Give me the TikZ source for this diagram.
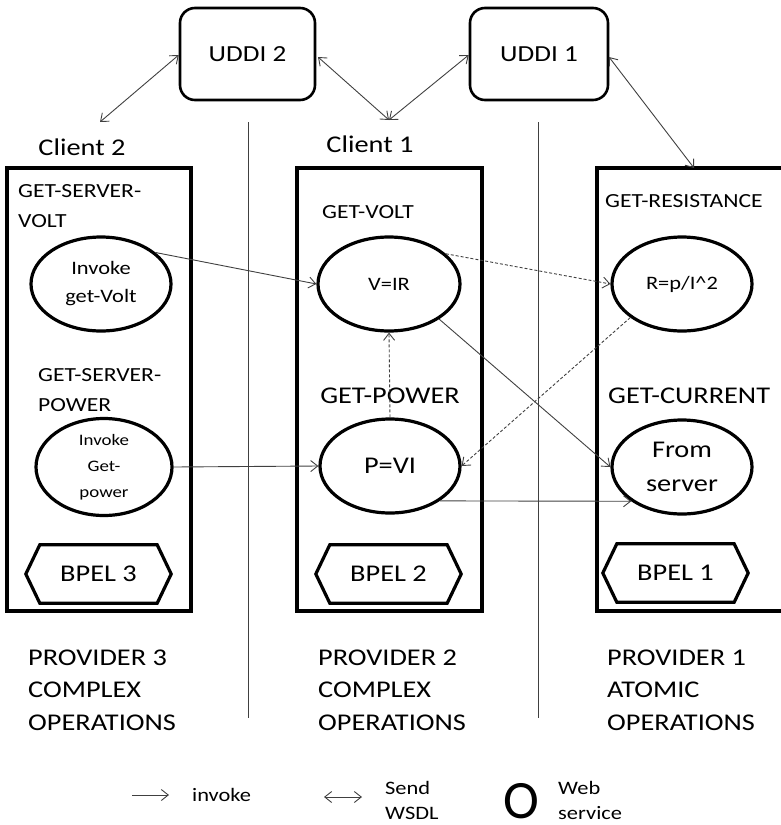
\documentclass[tikz,border=0pt]{standalone}
\usepackage{fontspec}
\setmainfont{Carlito}[FakeStretch=1.18]
\newfontfamily\plainfont{Carlito}
\usetikzlibrary{arrows.meta,shapes.geometric}
\begin{document}
\begin{tikzpicture}[x=1pt,y=-1pt,
  fs/.style={font=\fontsize{#1}{#1}\selectfont},
  uddi/.style={draw,line width=2.6pt,rounded corners=15pt,minimum width=135pt,minimum height=92pt,inner sep=0pt,fs=23},
  frame/.style={draw,line width=3.2pt},
  ws/.style={draw,ellipse,line width=3.2pt,minimum width=140pt,minimum height=94pt,inner sep=0pt,align=center},
  bpel/.style={minimum width=145pt,minimum height=58pt,inner sep=0pt,fs=24},
  hexa/.style={line width=3.2pt,line join=miter},
  sep/.style={draw=black!75,line width=0.8pt},
  conn/.style={draw=black!75,line width=0.9pt},
  tip/.style={-{Straight Barb[length=7pt,width=11pt]}},
  dtip/.style={{Straight Barb[length=7pt,width=11pt]}-{Straight Barb[length=7pt,width=11pt]}},
  lbl/.style={inner sep=0pt,align=left,anchor=west},
]
\useasboundingbox (0,0) rectangle (780,825);

% UDDI registries
\node[uddi] (uddi2) at (247.5,54) {UDDI 2};
\node[uddi,minimum width=138pt] (uddi1) at (539,54) {UDDI 1};

% separators
\coordinate (s1t) at (248,122); \coordinate (s1b) at (248,718);
\coordinate (s2t) at (538,122); \coordinate (s2b) at (538,718);
\draw[sep] (s1t) -- (s1b);
\draw[sep] (s2t) -- (s2b);

% clients
\node[fs=24,inner sep=0pt] (client2) at (82,147) {Client 2};
\node[fs=24,inner sep=0pt] (client1) at (370,144) {Client 1};

% provider frames
\node[frame,minimum width=184pt,minimum height=443pt,inner sep=0pt] (p3) at (99,389.5) {};
\node[frame,minimum width=185pt,minimum height=443pt,inner sep=0pt] (p2) at (389.5,389.5) {};
\node[frame,minimum width=193pt,minimum height=443pt,inner sep=0pt] (p1) at (693.5,389.5) {};

% operation titles
\node[lbl,fs=20,align=left] (t1) at (18,206) {GET-SERVER-\\[10pt]VOLT};
\node[fs=20,inner sep=0pt] (t2) at (368,212) {GET-VOLT};
\node[lbl,fs=20] (t3) at (605,201) {GET-RESISTANCE};
\node[lbl,fs=20,align=left] (t4) at (38,390) {GET-SERVER-\\[10pt]POWER};
\node[fs=24,inner sep=0pt] (t5) at (390,396) {GET-POWER};
\node[lbl,fs=24] (t6) at (608,396) {GET-CURRENT};

% web services
\node[ws,fs=19] (igv) at (101,284) {Invoke\\[9pt]get-Volt};
\node[ws,fs=19,minimum width=142pt] (vir) at (389,284) {V=IR};
\node[ws,fs=19] (rp) at (682,284) {R=p/I\^{}2};
\node[ws,fs=16,minimum width=136pt,minimum height=97pt] (igp) at (104,467) {Invoke\\[10pt]Get-\\[10pt]power};
\node[ws,fs=24] (pvi) at (390,466) {P=VI};
\node[ws,fs=24] (fsv) at (682,467) {From\\[10pt]server};

% BPEL engines
\node[bpel] (b3) at (98.5,574) {BPEL 3};
\node[bpel] (b2) at (388.5,574) {BPEL 2};
\node[bpel] (b1) at (675.5,573) {BPEL 1};
\foreach \b in {b3,b2,b1}{
  \draw[hexa] (\b.west) -- ([xshift=14pt]\b.north west) -- ([xshift=-14pt]\b.north east)
    -- (\b.east) -- ([xshift=-14pt]\b.south east) -- ([xshift=14pt]\b.south west) -- cycle;
}

% provider captions
\node[lbl,fs=24] (c3) at (28,690) {PROVIDER 3\\[8.5pt]COMPLEX\\[8.5pt]OPERATIONS};
\node[lbl,fs=24] (c2) at (318,690) {PROVIDER 2\\[8.5pt]COMPLEX\\[8.5pt]OPERATIONS};
\node[lbl,fs=24] (c1) at (607,690) {PROVIDER 1\\[8.5pt]ATOMIC\\[8.5pt]OPERATIONS};

% WSDL exchanges
\coordinate (cl2) at (100,122);
\coordinate (cl1) at (389,120);
\coordinate (pr1) at (694,168);
\draw[conn,dtip] (uddi2.west |- 0,55) -- (cl2);
\draw[conn,dtip] (318,57) -- (cl1);
\draw[conn,dtip] (uddi1.west |- 0,55) -- (cl1);
\draw[conn,dtip] (609,57) -- (pr1);

% invocations
\draw[conn,tip] (igv.30) -- (vir.west);
\draw[conn,tip,dash pattern=on 3pt off 2pt] (vir.28) -- (rp.west);
\draw[conn,tip,dash pattern=on 3pt off 2pt] (pvi.north) -- (vir.south);
\draw[conn,tip,dash pattern=on 3pt off 2pt] (rp.-147) -- (pvi.east);
\draw[conn,tip] (vir.-35) -- (fsv.west);
\draw[conn,tip] (igp.east) -- (pvi.west);
\draw[conn,tip] (pvi.-35) -- (fsv.-146);

% legend
\coordinate (la1) at (132,795); \coordinate (la2) at (169,795);
\draw[conn,tip] (la1) -- (la2);
\node[lbl,fs=19] (lg1) at (192,795) {invoke};
\coordinate (lb1) at (324,797); \coordinate (lb2) at (362,797);
\draw[conn,dtip] (lb1) -- (lb2);
\node[lbl,fs=19] (lg2) at (385,800) {Send\\[6pt]WSDL};
\node[inner sep=0pt,font=\plainfont\fontsize{54}{54}\selectfont] (lg3) at (521,801) {O};
\node[lbl,fs=19] (lg4) at (558,800) {Web\\[6pt]service};
\end{tikzpicture}
\end{document}
